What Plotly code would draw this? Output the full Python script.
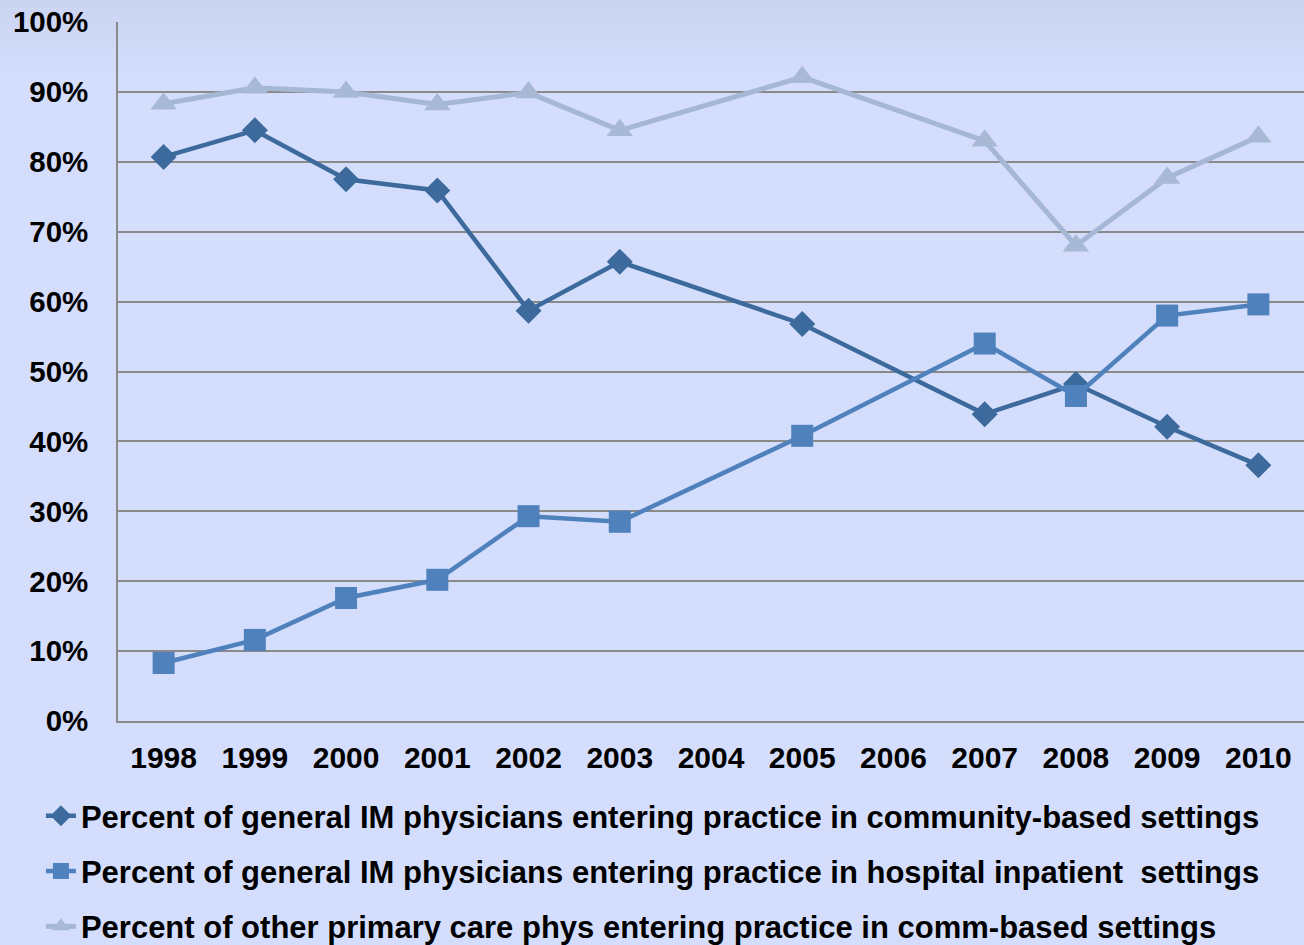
import plotly.graph_objects as go

years = ["1998", "1999", "2000", "2001", "2002", "2003", "2004", "2005", "2006", "2007", "2008", "2009", "2010"]
community = [80.7, 84.5, 77.5, 75.9, 58.7, 65.7, None, 56.8, None, 43.9, 48.2, 42.1, 36.6]
hospital = [8.3, 11.6, 17.6, 20.2, 29.3, 28.5, None, 40.8, None, 54.0, 46.5, 58.0, 59.6]
other_pc = [88.3, 90.6, 90.0, 88.2, 89.9, 84.5, None, 92.1, None, 83.0, 68.0, 77.7, 83.6]

names = [
    "Percent of general IM physicians entering practice in community-based settings",
    "Percent of general IM physicians entering practice in hospital inpatient  settings",
    "Percent of other primary care phys entering practice in comm-based settings",
]

FONT = "Liberation Sans, Arial, sans-serif"

fig = go.Figure()
fig.add_trace(go.Scatter(x=years, y=other_pc, name=names[2], mode="lines+markers", connectgaps=True,
                         line=dict(color="#A6B7D5", width=5),
                         marker=dict(symbol="triangle-up", size=23, color="#A8B9D6"),
                         legendgroup="c", legendrank=3, showlegend=True))
fig.add_trace(go.Scatter(x=years, y=community, name=names[0], mode="lines+markers", connectgaps=True,
                         line=dict(color="#3D6A9C", width=4.5),
                         marker=dict(symbol="diamond", size=20, color="#3D6A9C"),
                         legendgroup="a", legendrank=1))
fig.add_trace(go.Scatter(x=years, y=hospital, name=names[1], mode="lines+markers", connectgaps=True,
                         line=dict(color="#4F81BD", width=4.5),
                         marker=dict(symbol="square", size=22, color="#4F81BD"),
                         legendgroup="b", legendrank=2))

# subtle vertical gradient at the top of the background
top_c = (203, 213, 242)
bot_c = (212, 222, 252)
shapes = []
nb = 10
ph = 698.0
for i in range(nb):
    t = i / (nb - 1)
    c = tuple(round(top_c[k] + (bot_c[k] - top_c[k]) * t) for k in range(3))
    y0px = i * 9
    y1px = (i + 1) * 9
    shapes.append(dict(type="rect", xref="paper", yref="paper", layer="below",
                       x0=-0.2, x1=1.1,
                       y0=1 + (22.5 - y1px) / ph, y1=1 + (22.5 - y0px) / ph,
                       fillcolor="rgb(%d,%d,%d)" % c, line=dict(width=0)))

fig.update_layout(
    width=1304, height=945,
    margin=dict(l=118, r=0, t=22, b=224, autoexpand=False),
    paper_bgcolor="#D4DEFC",
    plot_bgcolor="rgba(0,0,0,0)",
    shapes=shapes,
    font=dict(family=FONT, size=30, color="#000000", weight="bold"),
    showlegend=True,
    legend=dict(x=-0.065, y=0.165, yref="container", xanchor="left", yanchor="top",
                bgcolor="rgba(0,0,0,0)", font=dict(size=31, family=FONT, weight="bold"),
                traceorder="grouped", tracegroupgap=12, itemwidth=30),
    xaxis=dict(type="category", categoryorder="array", categoryarray=years,
               showgrid=False, showline=True, linecolor="#8A8A8A", linewidth=1.5,
               ticks="", tickfont=dict(size=30, family=FONT, weight="bold"), ticklabelstandoff=9,
               range=[-0.5, 12.5]),
    yaxis=dict(range=[0, 100], dtick=10, ticksuffix="%", showgrid=True, gridcolor="#8A8A8A",
               gridwidth=1.5, showline=True, linecolor="#8A8A8A", linewidth=1.5, ticks="",
               tickfont=dict(size=29.5, family=FONT, weight="bold"), ticklabelstandoff=22,
               zeroline=False),
)

fig.write_html("out.html", config={"displayModeBar": False},
               post_script="document.body.style.margin='0';document.body.style.overflow='hidden';")
